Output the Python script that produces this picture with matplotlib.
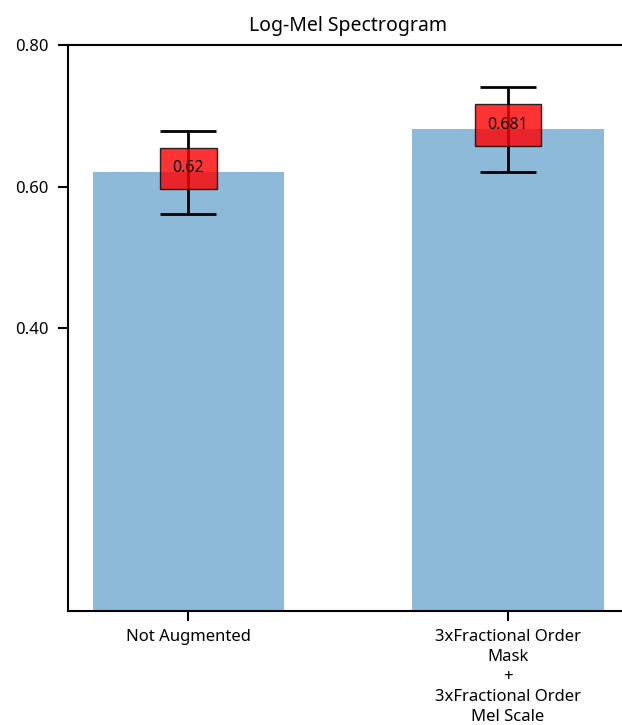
import matplotlib
matplotlib.use("Agg")
import matplotlib.pyplot as plt

plt.rcParams['font.family'] = ['Noto Sans', 'DejaVu Sans']

categories = ["Not Augmented",
              "3xFractional Order\nMask\n+\n3xFractional Order\nMel Scale"]
means = [0.62, 0.681]
errors = [0.059, 0.060]
labels = ["0.62", "0.681"]
yticks = [0.40, 0.60, 0.80]
title = "Log-Mel Spectrogram"

fig = plt.figure(figsize=(6.22, 7.25), dpi=100)
ax = fig.add_axes([0.1093, 0.157, 0.901, 0.781])

x = list(range(len(categories)))
ax.bar(x, means, width=0.6, color="tab:blue", alpha=0.5)
ax.errorbar(x, means, yerr=errors, fmt="none", ecolor="black",
            elinewidth=2, capsize=20, capthick=2)
for xi, m, lab in zip(x, means, labels):
    ax.text(xi, m, lab, ha="center", fontsize=11.5,
            bbox=dict(boxstyle="square,pad=0.8", facecolor="red",
                      edgecolor="black", alpha=0.8))

ax.set_xlim(-0.377, 1.377)
ax.set_ylim(0, 0.8)
ax.set_yticks(yticks)
ax.set_yticklabels([f"{v:.2f}" for v in yticks], fontsize=12)
ax.set_xticks(x)
ax.set_xticklabels(categories, fontsize=12, linespacing=1.35)
ax.tick_params(axis="both", length=7, width=1.5)
ax.tick_params(axis="x", pad=5.5)
ax.tick_params(axis="y", pad=7)
ax.set_title(title, fontsize=14, pad=10)
for s in ax.spines.values():
    s.set_linewidth(1.5)

fig.savefig("out.png", dpi=100)
